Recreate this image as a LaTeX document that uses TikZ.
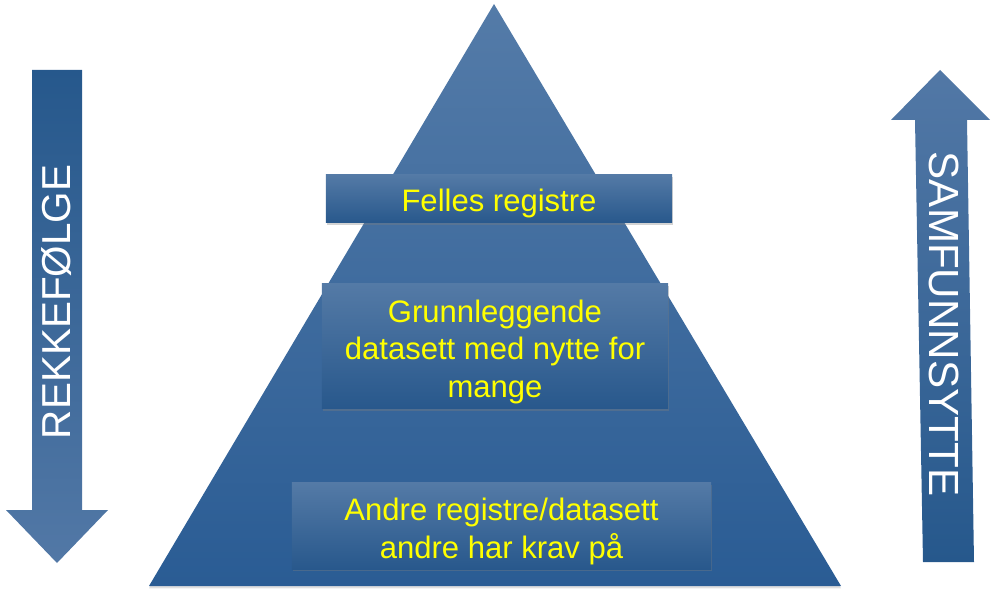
\documentclass[tikz,border=0pt]{standalone}
\usepackage{fontspec}
\setmainfont{Liberation Sans}
\usetikzlibrary{positioning,shadows}
\definecolor{pyrtop}{RGB}{84,123,168}
\definecolor{pyrbot}{RGB}{42,92,148}
\definecolor{boxtop}{RGB}{84,122,166}
\definecolor{boxmid}{RGB}{46,100,158}
\definecolor{boxbot}{RGB}{40,88,140}
\definecolor{arrdark}{RGB}{38,88,140}
\definecolor{arrlight}{RGB}{82,120,166}
\definecolor{labelyellow}{RGB}{255,255,0}

\begin{document}
\begin{tikzpicture}[
    x=0.03cm, y=-0.03cm,
    box/.style={draw=none, top color=boxtop, middle color=boxmid, bottom color=boxbot, inner sep=0pt,
        drop shadow={opacity=0.35, shadow xshift=1pt, shadow yshift=-2pt}},
    boxtext/.style={text=labelyellow, font=\fontsize{26.5}{32}\selectfont, align=center, inner sep=0pt},
    sidetext/.style={text=white, inner sep=0pt}
]
\useasboundingbox (0,0) rectangle (997,595);

% Pyramid
\shade[top color=pyrtop, bottom color=pyrbot, drop shadow={opacity=0.25, shadow xshift=0pt, shadow yshift=-2pt}]
    (494,4) -- (841,586) -- (149,586) -- cycle;

% Levels
\node[box, minimum width=10.38cm, minimum height=1.44cm] (felles) at (499,199) {};
\node[box, minimum width=10.38cm, minimum height=3.75cm] (grunn) at (495,346) {};
\node[box, minimum width=12.57cm, minimum height=2.58cm] (andre) at (501.5,526) {};
\node[boxtext] (fellestxt) at ([yshift=-0.14cm]felles.center) {Felles registre};
\node[boxtext] (grunntxt) at ([yshift=-0.17cm]grunn.center) {Grunnleggende\\datasett med nytte for\\mange};
\node[boxtext] (andretxt) at ([yshift=-0.17cm]andre.center) {Andre registre/datasett\\andre har krav på};

% Side arrows
\shade[top color=arrdark, bottom color=arrlight]
    (32,70) -- (82,70) -- (82,510) -- (108,510) -- (57,563) -- (6,510) -- (32,510) -- cycle;
\node[sidetext, rotate=90, font=\fontsize{34.5}{40}\selectfont] (rekke) at (57,302) {REKKEFØLGE};

\shade[top color=arrlight, bottom color=arrdark]
    (940,70) -- (990,120) -- (967,120) -- (974,562) -- (923,562) -- (915,120) -- (891,120) -- cycle;
\node[sidetext, rotate=-90, font=\fontsize{36}{42}\selectfont] (samf) at (944,324) {SAMFUNNSYTTE};
\end{tikzpicture}
\end{document}
